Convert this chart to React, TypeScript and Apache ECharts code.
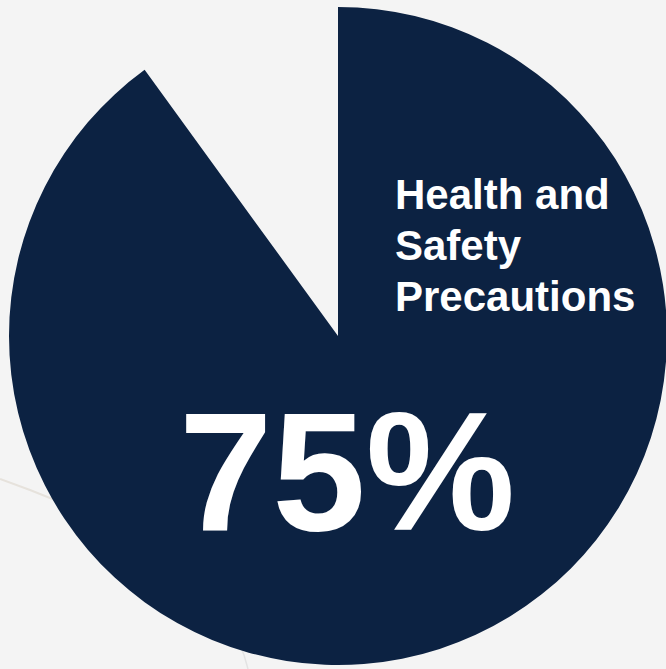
import React, { useEffect, useRef } from "react";
import * as echarts from "echarts";

const categories = ["Health and Safety Precautions", "Other"];
const values = [90, 10];
const labelLines = ["Health and", "Safety", "Precautions"];
const bigLabel = "75%";

export default function App() {
  const ref = useRef<HTMLDivElement>(null);
  useEffect(() => {
    if (!ref.current) return;
    const chart = echarts.init(ref.current, null, { renderer: "svg" });
    const font = '"Liberation Sans", Arial, Helvetica, sans-serif';
    chart.setOption({
      animation: false,
      backgroundColor: "#f4f4f4",
      graphic: [
        {
          type: "polyline",
          z: 0,
          shape: { points: [[0, 479], [30, 490], [70, 506], [110, 522]] },
          style: { stroke: "#e6e2dc", lineWidth: 2, fill: "none" },
        },
        {
          type: "polyline",
          z: 0,
          shape: { points: [[238, 640], [244, 655], [248, 669]] },
          style: { stroke: "#e3e3e3", lineWidth: 1.5, fill: "none" },
        },
        ...labelLines.map((t, i) => ({
          type: "text",
          z: 100,
          x: 395,
          y: 194 + i * 51,
          style: {
            text: t,
            fill: "#ffffff",
            font: `bold 42px ${font}`,
            align: "left",
            verticalAlign: "middle",
          },
        })),
        {
          type: "text",
          z: 100,
          x: 347,
          y: 472,
          style: {
            text: bigLabel,
            fill: "#ffffff",
            font: `bold 168px ${font}`,
            align: "center",
            verticalAlign: "middle",
          },
        },
      ],
      series: [
        {
          type: "pie",
          center: [338, 336],
          radius: [0, 329],
          startAngle: 90,
          clockwise: true,
          silent: true,
          label: { show: false },
          labelLine: { show: false },
          emphasis: { disabled: true },
          data: categories.map((c, i) => ({
            name: c,
            value: values[i],
            itemStyle: {
              color: i === 0 ? "#0c2242" : "rgba(0,0,0,0)",
              borderWidth: 0,
            },
          })),
        },
      ],
    });
    return () => chart.dispose();
  }, []);
  return (
    <div
      ref={ref}
      style={{ position: "absolute", left: 0, top: 0, width: 666, height: 669 }}
    />
  );
}
